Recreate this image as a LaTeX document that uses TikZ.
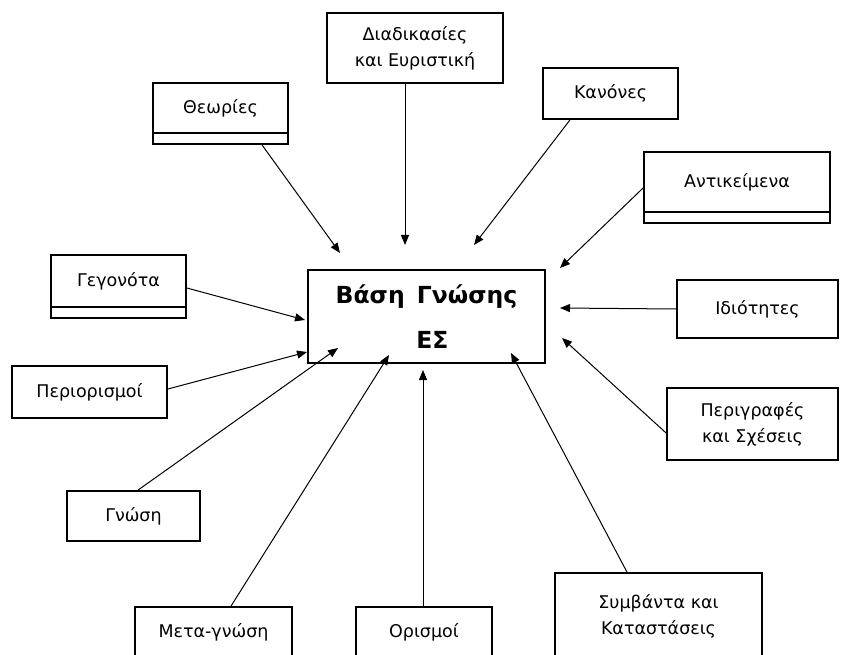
\documentclass[tikz,border=0pt]{standalone}
\usepackage{fontspec}
\setmainfont{DejaVu Sans}
\usetikzlibrary{arrows.meta}
\begin{document}
\begin{tikzpicture}[x=1pt,y=-1pt,
  box/.style={draw, line width=1.8pt, inner sep=0pt, align=center,
    font=\fontsize{17.5}{26}\selectfont},
  strip/.style={draw, line width=1.8pt, inner sep=0pt},
  link/.style={line width=1pt, -{Triangle[length=10pt,width=8pt]}}]
\clip (0,0) rectangle (860,655);
\fill[white] (0,0) rectangle (860,655);

% central knowledge base
\node[box, minimum width=237, minimum height=93,
  font=\bfseries\fontsize{23.5}{45}\selectfont] (kb) at (426.5,316.5)
  {Βάση\hspace{4pt} Γνώσης\\\hspace*{12pt}ΕΣ};

% surrounding boxes
\node[box, minimum width=135, minimum height=50] (theo) at (220.5,108) {Θεωρίες};
\node[strip, minimum width=135, minimum height=11] (theos) at (220.5,138.5) {};
\node[box, minimum width=176, minimum height=70] (diad) at (415,48) {Διαδικασίες\\και Ευριστική};
\node[box, minimum width=135, minimum height=51] (kan) at (610.5,93.5) {Κανόνες};
\node[box, minimum width=186, minimum height=60] (ant) at (737,182) {Αντικείμενα};
\node[strip, minimum width=186, minimum height=11] (ants) at (737,217.5) {};
\node[box, minimum width=135, minimum height=52] (geg) at (118.5,281) {Γεγονότα};
\node[strip, minimum width=135, minimum height=11] (gegs) at (118.5,312.5) {};
\node[box, minimum width=161, minimum height=58] (idi) at (757.5,309) {Ιδιότητες};
\node[box, minimum width=171, minimum height=72] (per) at (752.5,424) {Περιγραφές\\και Σχέσεις};
\node[box, minimum width=155, minimum height=52] (peri) at (89.5,392) {Περιορισμοί};
\node[box, minimum width=133, minimum height=50] (gno) at (133.5,516) {Γνώση};
\node[box, minimum width=157, minimum height=50] (meta) at (213.5,632) {Μετα-γνώση};
\node[box, minimum width=136, minimum height=50] (ori) at (424,632) {Ορισμοί};
\node[box, minimum width=207, minimum height=86] (sym) at (658.5,616) {Συμβάντα και\\Καταστάσεις};

% arrow tips next to the central box
\coordinate (t1) at (340,253);
\coordinate (t2) at (405,245);
\coordinate (t3) at (474,245);
\coordinate (t4) at (560,268);
\coordinate (t5) at (560,308);
\coordinate (t6) at (562,338);
\coordinate (t7) at (511,353);
\coordinate (t8) at (423,370);
\coordinate (t9) at (389,355);
\coordinate (t10) at (338,348);
\coordinate (t11) at (307,352);
\coordinate (t12) at (305,320);

% connectors
\draw[link] ([xshift=41.5pt]theos.south) -- (t1);
\draw[link] ([xshift=-10pt]diad.south) -- (t2);
\draw[link] ([xshift=-40.5pt]kan.south) -- (t3);
\draw[link] ([yshift=-6pt]ant.west) -- (t4);
\draw[link] (idi.west) -- (t5);
\draw[link] ([yshift=-9pt]per.west) -- (t6);
\draw[link] ([xshift=-31.5pt]sym.north) -- (t7);
\draw[link] ([xshift=-1pt]ori.north) -- (t8);
\draw[link] ([xshift=17.5pt]meta.north) -- (t9);
\draw[link] ([xshift=4.5pt]gno.north) -- (t10);
\draw[link] ([yshift=3pt]peri.east) -- (t11);
\draw[link] ([yshift=-7pt]geg.east) -- (t12);
\end{tikzpicture}
\end{document}
